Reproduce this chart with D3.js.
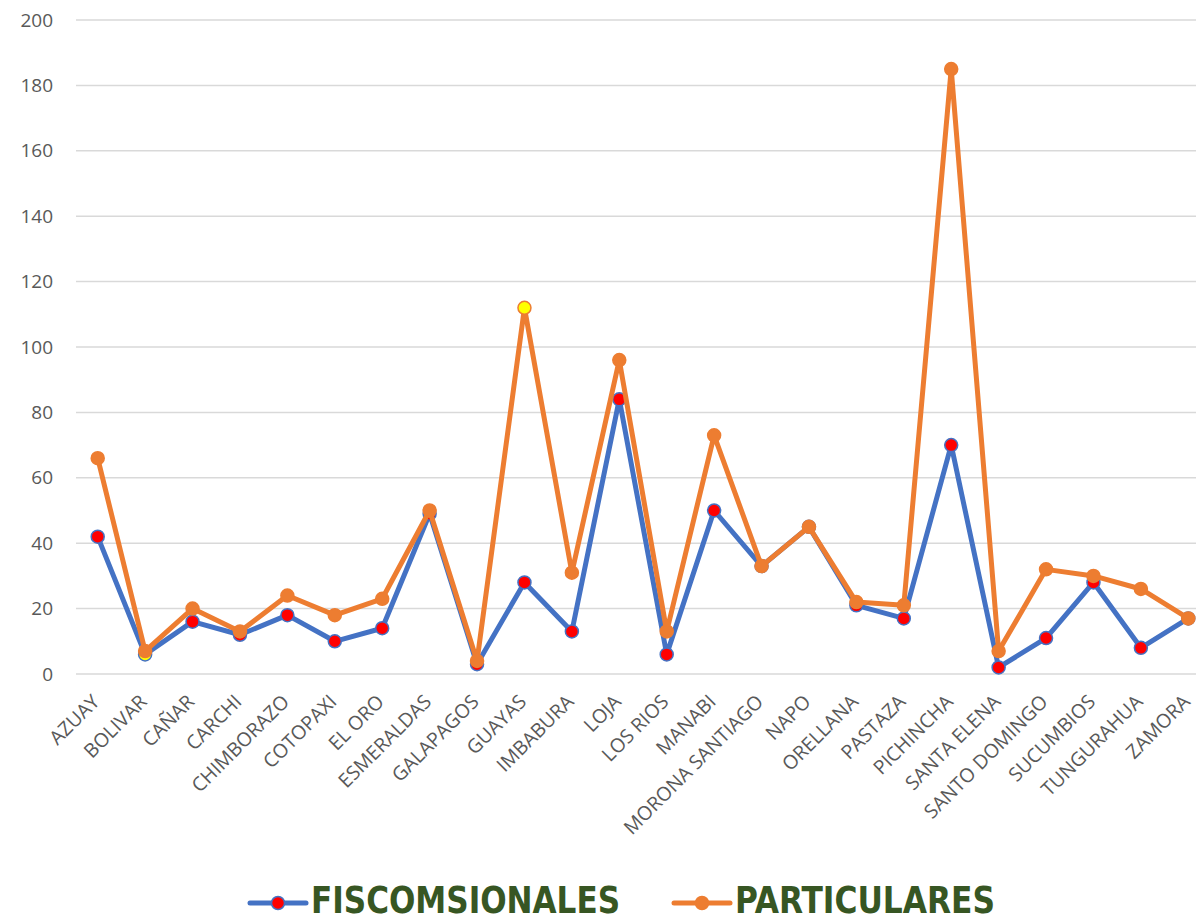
<!DOCTYPE html>
<html>
<head>
<meta charset="utf-8">
<script src="https://cdn.jsdelivr.net/npm/d3@7"></script>
<style>
  body { margin: 0; background: #fff; }
  text { font-family: "Open Sans", "Liberation Sans", sans-serif; }
</style>
</head>
<body>
<div id="plot"></div>
<script>
// chart data
const provincias = ["AZUAY", "BOLIVAR", "CAÑAR", "CARCHI", "CHIMBORAZO", "COTOPAXI", "EL ORO",
  "ESMERALDAS", "GALAPAGOS", "GUAYAS", "IMBABURA", "LOJA", "LOS RIOS", "MANABI",
  "MORONA SANTIAGO", "NAPO", "ORELLANA", "PASTAZA", "PICHINCHA", "SANTA ELENA",
  "SANTO DOMINGO", "SUCUMBIOS", "TUNGURAHUA", "ZAMORA"];
const fiscomisionales = [42, 6, 16, 12, 18, 10, 14, 49, 3, 28, 13, 84, 6, 50, 33, 45, 21, 17, 70, 2, 11, 28, 8, 17];
const particulares = [66, 7, 20, 13, 24, 18, 23, 50, 4, 112, 31, 96, 13, 73, 33, 45, 22, 21, 185, 7, 32, 30, 26, 17];
const yTicks = [0, 20, 40, 60, 80, 100, 120, 140, 160, 180, 200];
const seriesNames = ["FISCOMSIONALES", "PARTICULARES"];

const width = 1196, height = 922;
const blue = "#4472C4", orange = "#ED7D31";

const svg = d3.select("#plot")
  .append("svg")
    .attr("width", width)
    .attr("height", height);

const x = d3.scalePoint()
  .domain(provincias)
  .range([74, 1212])
  .padding(0.5);

const y = d3.scaleLinear()
  .domain([0, 200])
  .range([674, 20]);

// gridlines
svg.append("g")
  .selectAll("line")
  .data(yTicks)
  .join("line")
    .attr("x1", 76)
    .attr("x2", width)
    .attr("y1", d => y(d))
    .attr("y2", d => y(d))
    .attr("stroke", "#d9d9d9")
    .attr("stroke-width", 1.5);

// y axis labels
svg.append("g")
  .selectAll("text")
  .data(yTicks)
  .join("text")
    .attr("x", 53)
    .attr("y", d => y(d))
    .attr("dy", "0.35em")
    .attr("text-anchor", "end")
    .attr("fill", "#595959")
    .style("font-size", "19px")
    .text(d => d);

// x axis labels, rotated
svg.append("g")
  .selectAll("text")
  .data(provincias)
  .join("text")
    .attr("transform", d => `translate(${x(d) + 3}, 703) rotate(-45)`)
    .attr("text-anchor", "end")
    .attr("fill", "#595959")
    .style("font-size", "19.5px")
    .text(d => d);

const line = d3.line()
  .x((d, i) => x(provincias[i]))
  .y(d => y(d));

function drawSeries(values, color, markerFill, markerStroke) {
  svg.append("path")
    .datum(values)
    .attr("d", line)
    .attr("fill", "none")
    .attr("stroke", color)
    .attr("stroke-width", 5)
    .attr("stroke-linejoin", "round")
    .attr("stroke-linecap", "round");

  svg.append("g")
    .selectAll("circle")
    .data(values)
    .join("circle")
      .attr("cx", (d, i) => x(provincias[i]))
      .attr("cy", d => y(d))
      .attr("r", 6.5)
      .attr("fill", (d, i) => markerFill(i))
      .attr("stroke", markerStroke)
      .attr("stroke-width", 1.5);
}

// Fiscomisionales: red markers (BOLIVAR in yellow)
drawSeries(fiscomisionales, blue, i => provincias[i] === "BOLIVAR" ? "#FFFF00" : "#FF0000", blue);
// Particulares: orange markers (GUAYAS in yellow)
drawSeries(particulares, orange, i => provincias[i] === "GUAYAS" ? "#FFFF00" : orange, orange);

// legend
const legend = [
  { name: seriesNames[0], color: blue, fill: "#FF0000", x: 250, textLen: 309 },
  { name: seriesNames[1], color: orange, fill: orange, x: 674, textLen: 260 }
];
const lg = svg.append("g")
  .selectAll("g")
  .data(legend)
  .join("g")
    .attr("transform", d => `translate(${d.x}, 903)`);

lg.append("line")
  .attr("x1", 0)
  .attr("x2", 56)
  .attr("stroke", d => d.color)
  .attr("stroke-width", 5)
  .attr("stroke-linecap", "round");

lg.append("circle")
  .attr("cx", 28)
  .attr("r", 6.5)
  .attr("fill", d => d.fill)
  .attr("stroke", d => d.color)
  .attr("stroke-width", 1.5);

lg.append("text")
  .attr("x", 61)
  .attr("y", 10)
  .attr("fill", "#375623")
  .attr("textLength", d => d.textLen)
  .attr("lengthAdjust", "spacingAndGlyphs")
  .style("font-family", "'Liberation Sans Narrow', 'DejaVu Sans Condensed', sans-serif")
  .style("font-weight", "bold")
  .style("font-size", "37px")
  .text(d => d.name);
</script>
</body>
</html>
